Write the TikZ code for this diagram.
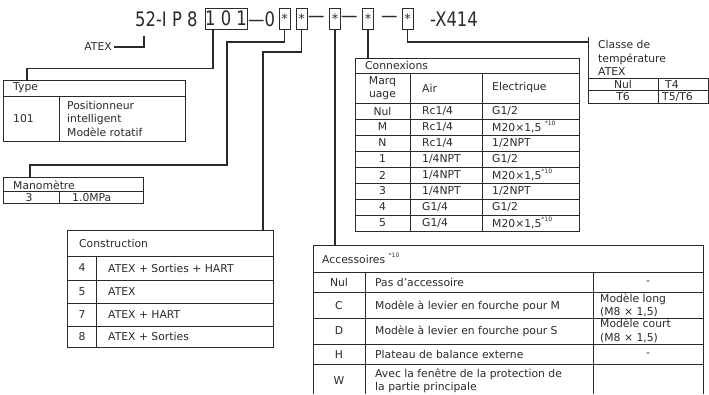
\documentclass[tikz,border=0pt]{standalone}
\usepackage{fontspec}
\setmainfont{DejaVu Sans}
\newfontfamily\codefont[FakeStretch=0.82]{DejaVu Sans}
\definecolor{inkc}{HTML}{2A2A2A}
\newcommand\supten{\raisebox{0.5em}{\fontsize{6}{6}\selectfont *10}}
\begin{document}
\begin{tikzpicture}[x=1pt,y=-1pt,
  conn/.style={line width=1.6pt,draw=inkc},
  tb/.style={line width=0.8pt,draw=inkc},
  txt/.style={font=\fontsize{10.8}{13.5}\selectfont,text=inkc,inner sep=0pt},
  code/.style={font=\codefont\fontsize{20}{22}\selectfont,text=inkc,inner sep=0pt},
  codebox/.style={code,draw=inkc,line width=0.8pt,minimum height=21pt},
  starbox/.style={codebox,minimum width=11pt,font=\fontsize{13}{13}\selectfont},
]
\useasboundingbox (0,0) rectangle (709,394);

% ---- code line ----
\node[code,anchor=west] (c1) at (135,19) {52-I P 8};
\node[codebox,minimum width=42pt] (b101) at (226,18.5) {1 0 1};
\node[code,anchor=west] (c2) at (248,19) {—0};
\node[starbox] (s1) at (284.5,18.5) {*};
\node[starbox] (s2) at (301.5,18.5) {*};
\node[code,anchor=west] (d1) at (308,19) {—};
\node[starbox] (s3) at (335,18.5) {*};
\node[code,anchor=west] (d2) at (341,19) {—};
\node[starbox] (s4) at (368,18.5) {*};
\node[code,anchor=west] (d3) at (381,19) {—};
\node[starbox] (s5) at (407.5,18.5) {*};
\node[code,anchor=west] (x414) at (430,19) {-X414};

% ---- ATEX ----
\node[txt,anchor=east] (atex) at (112,47) {ATEX};
\coordinate (atexend) at (144,36);
\draw[conn] (atex.east) ++(2,0) -| (atexend);

% ---- connector end points ----
\coordinate (typetop) at (27,80);
\coordinate (manotop) at (30,177);
\coordinate (consttop) at (263,230);
\coordinate (acctop) at (335,245);
\coordinate (conntop) at (368,58);
\coordinate (classeleft) at (588,42);

\draw[conn] ([xshift=-13pt]b101.south) -- ++(0,39) -| (typetop);
\draw[conn] (s1.south) |- (227,42) |- (30,165) -- (manotop);
\draw[conn] (s2.south) |- (263,52) -- (consttop);
\draw[conn] (s3.south) -- (acctop);
\draw[conn] (s4.south) -- (conntop);
\draw[conn] (s5.south) |- (classeleft);

% ---- Type table ----
\draw[tb] (3,80) rectangle (185,141);
\draw[tb] (3,96) -- (185,96) (59,96) -- (59,141);
\node[txt,anchor=west] (typeh) at (13,88) {Type};
\node[txt,anchor=west] (type1) at (13,118.5) {101};
\node[txt,anchor=west,align=left] (type2) at (67,118.5) {Positionneur\\intelligent\\Modèle rotatif};

% ---- Manometre ----
\draw[tb] (3,177) rectangle (143,203);
\draw[tb] (3,191) -- (143,191) (59,191) -- (59,203);
\node[txt,anchor=west] (manoh) at (13,185) {Manomètre};
\node[txt] (mano1) at (29,197.5) {3};
\node[txt,anchor=west] (mano2) at (72,197.5) {1.0MPa};

% ---- Construction ----
\draw[tb] (67,230) rectangle (273,347);
\draw[tb] (67,256) -- (273,256) (67,280) -- (273,280) (67,303) -- (273,303) (67,326) -- (273,326) (96,256) -- (96,347);
\node[txt,anchor=west] (consh) at (79,243) {Construction};
\foreach \k/\t/\yy [count=\i] in {4/{ATEX + Sorties + HART}/268, 5/{ATEX}/291.5, 7/{ATEX + HART}/314.5, 8/{ATEX + Sorties}/336.5}{
  \node[txt] (consn\i) at (82,\yy) {\k};
  \node[txt,anchor=west] (const\i) at (108,\yy) {\t};
}

% ---- Connexions ----
\draw[tb] (355,58) rectangle (579,231);
\draw[tb] (355,73) -- (579,73) (410,73) -- (410,231) (482,73) -- (482,231);
\foreach \yy in {103,119,135,151,167,183,199,215}{\draw[tb] (355,\yy) -- (579,\yy);}
\node[txt,anchor=west] (connh) at (365,65.5) {Connexions};
\node[txt,align=center] (connm) at (382.5,88) {Marq\\uage};
\node[txt,anchor=west] (conna) at (422,88) {Air};
\node[txt,anchor=west] (conne) at (492,88) {Electrique};
\foreach \m/\a/\e [count=\i] in {
  {Nul}/{Rc1/4}/{G1/2},
  {M}/{Rc1/4}/{M20×1,5 \supten},
  {N}/{Rc1/4}/{1/2NPT},
  {1}/{1/4NPT}/{G1/2},
  {2}/{1/4NPT}/{M20×1,5\supten},
  {3}/{1/4NPT}/{1/2NPT},
  {4}/{G1/4}/{G1/2},
  {5}/{G1/4}/{M20×1,5\supten}}{
  \node[txt] (cm\i) at (382.5,{103+16*\i-8}) {\m};
  \node[txt,anchor=west] (ca\i) at (422,{103+16*\i-8}) {\a};
  \node[txt,anchor=west] (ce\i) at (492,{103+16*\i-8}) {\e};
}

% ---- Classe de temperature ----
\draw[tb] (588,37) -- (588,103) -- (708,103) -- (708,78) -- (588,78);
\draw[tb] (588,90) -- (708,90) (658,78) -- (658,103);
\node[txt,anchor=west,align=left] (clh) at (598,58) {Classe de\\température\\ATEX};
\node[txt] (cl1) at (623,84.5) {Nul};
\node[txt,anchor=west] (cl2) at (665,84.5) {T4};
\node[txt] (cl3) at (623,97) {T6};
\node[txt,anchor=west] (cl4) at (662,97) {T5/T6};

% ---- Accessoires ----
\draw[tb] (313,394) -- (313,245) -- (703,245) -- (703,394);
\foreach \yy in {272,292,318,344,364}{\draw[tb] (313,\yy) -- (703,\yy);}
\draw[tb] (365,272) -- (365,394) (593,272) -- (593,394);
\node[txt,anchor=west] (acch) at (322,258.5) {Accessoires \supten};
\node[txt] (an1) at (339,282.5) {Nul};
\node[txt,anchor=west] (ad1) at (375,282.5) {Pas d’accessoire};
\node[txt] (ar1) at (648,282.5) {-};
\node[txt] (an2) at (339,306) {C};
\node[txt,anchor=west] (ad2) at (375,306) {Modèle à levier en fourche pour M};
\node[txt,anchor=west,align=left] (ar2) at (600,305.5) {Modèle long\\(M8 × 1,5)};
\node[txt] (an3) at (339,331) {D};
\node[txt,anchor=west] (ad3) at (375,331) {Modèle à levier en fourche pour S};
\node[txt,anchor=west,align=left] (ar3) at (600,331) {Modèle court\\(M8 × 1,5)};
\node[txt] (an4) at (339,354.5) {H};
\node[txt,anchor=west] (ad4) at (375,354.5) {Plateau de balance externe};
\node[txt] (ar4) at (648,354.5) {-};
\node[txt] (an5) at (339,381) {W};
\node[txt,anchor=west,align=left] (ad5) at (375,381) {Avec la fenêtre de la protection de\\la partie principale};
\end{tikzpicture}
\end{document}
